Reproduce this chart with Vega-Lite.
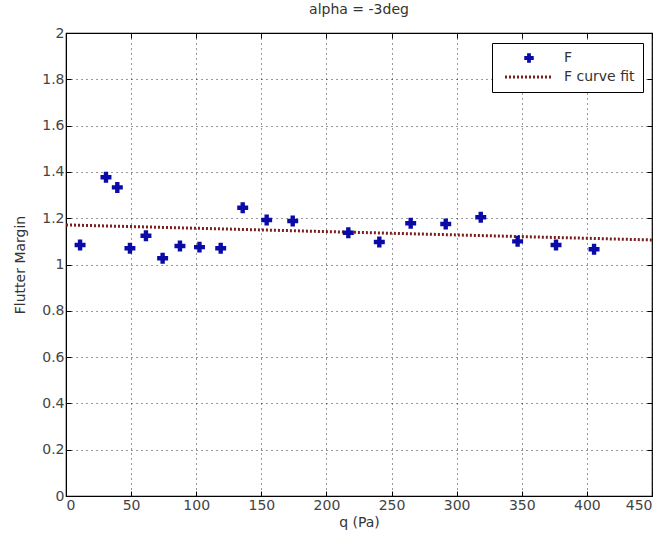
{
  "$schema": "https://vega.github.io/schema/vega-lite/v6.json",
  "width": 586,
  "height": 463,
  "autosize": {"type": "none"},
  "padding": {"left": 66, "top": 33, "right": 15, "bottom": 47},
  "background": "white",
  "title": {"text": "alpha = -3deg", "fontSize": 14, "fontWeight": "normal", "font": "DejaVu Sans", "color": "#333", "offset": 9},
  "config": {
    "view": {"stroke": "black", "strokeWidth": 1.2},
    "axis": {"labelFont": "DejaVu Sans", "titleFont": "DejaVu Sans", "labelFontSize": 14, "titleFontSize": 14, "titleFontWeight": "normal", "labelColor": "#444", "titleColor": "#333", "domainColor": "black", "tickColor": "black", "gridColor": "black", "gridDash": [1, 4], "gridOpacity": 0.8, "tickSize": -5, "labelPadding": 7}
  },
  "datasets": {
    "pts": [
      {"q": 10.8, "fm": 1.084, "series": "F"},
      {"q": 30.7, "fm": 1.377, "series": "F"},
      {"q": 39.4, "fm": 1.333, "series": "F"},
      {"q": 49.1, "fm": 1.070, "series": "F"},
      {"q": 61.4, "fm": 1.124, "series": "F"},
      {"q": 74.2, "fm": 1.027, "series": "F"},
      {"q": 87.5, "fm": 1.080, "series": "F"},
      {"q": 102.5, "fm": 1.075, "series": "F"},
      {"q": 118.8, "fm": 1.070, "series": "F"},
      {"q": 135.7, "fm": 1.245, "series": "F"},
      {"q": 154.1, "fm": 1.192, "series": "F"},
      {"q": 174.1, "fm": 1.188, "series": "F"},
      {"q": 216.8, "fm": 1.137, "series": "F"},
      {"q": 240.6, "fm": 1.097, "series": "F"},
      {"q": 264.7, "fm": 1.178, "series": "F"},
      {"q": 291.6, "fm": 1.175, "series": "F"},
      {"q": 318.5, "fm": 1.204, "series": "F"},
      {"q": 346.8, "fm": 1.100, "series": "F"},
      {"q": 376.3, "fm": 1.084, "series": "F"},
      {"q": 405.5, "fm": 1.066, "series": "F"}
    ],
    "fit": [
      {"q": 0, "fm": 1.171, "series": "F curve fit"},
      {"q": 450, "fm": 1.106, "series": "F curve fit"}
    ]
  },
  "layer": [
    {
      "data": {"name": "fit"},
      "mark": {"type": "line", "strokeDash": [2, 2], "strokeWidth": 3, "clip": true},
      "encoding": {
        "x": {"field": "q", "type": "quantitative", "scale": {"domain": [0, 450], "nice": false}, "axis": {"orient": "bottom", "title": "q (Pa)", "values": [0, 50, 100, 150, 200, 250, 300, 350, 400, 450], "titlePadding": 3}},
        "y": {"field": "fm", "type": "quantitative", "scale": {"domain": [0, 2], "nice": false, "zero": false}, "axis": {"orient": "left", "title": "Flutter Margin", "values": [0, 0.2, 0.4, 0.6, 0.8, 1, 1.2, 1.4, 1.6, 1.8, 2], "format": "~g", "titlePadding": 14}},
        "color": {
          "field": "series", "type": "nominal",
          "scale": {"domain": ["F", "F curve fit"], "range": ["#0a0aa8", "#7a1e1e"]},
          "legend": {
            "title": null, "orient": "none", "legendX": 426, "legendY": 10,
            "strokeColor": "black", "fillColor": "white", "padding": 8,
            "labelFont": "DejaVu Sans", "labelFontSize": 14, "labelColor": "#333",
            "symbolSize": 90, "symbolOffset": 22, "rowPadding": 5, "labelOffset": 28, "labelLimit": 200,
            "encode": {
              "symbols": {
                "update": {
                  "shape": {"signal": "datum.value === 'F' ? 'cross' : 'stroke'"},
                  "size": {"signal": "datum.value === 'F' ? 90 : 2304"},
                  "strokeDash": {"signal": "datum.value === 'F' ? [] : [2, 2]"},
                  "strokeWidth": {"signal": "datum.value === 'F' ? 0 : 3"},
                  "fill": {"signal": "datum.value === 'F' ? '#0a0aa8' : 'transparent'"},
                  "stroke": {"signal": "datum.value === 'F' ? '#0a0aa8' : '#7a1e1e'"},
                  "opacity": {"value": 1}
                }
              }
            }
          }
        }
      }
    },
    {
      "data": {"name": "pts"},
      "mark": {"type": "point", "shape": "cross", "filled": true, "size": 120, "opacity": 1},
      "encoding": {
        "x": {"field": "q", "type": "quantitative", "axis": {"orient": "top", "labels": false, "title": null, "grid": false, "domain": false, "values": [0, 50, 100, 150, 200, 250, 300, 350, 400, 450]}},
        "y": {"field": "fm", "type": "quantitative", "axis": {"orient": "right", "labels": false, "title": null, "grid": false, "domain": false, "values": [0, 0.2, 0.4, 0.6, 0.8, 1, 1.2, 1.4, 1.6, 1.8, 2]}},
        "color": {"field": "series", "type": "nominal"}
      }
    }
  ],
  "resolve": {"axis": {"x": "independent", "y": "independent"}}
}
